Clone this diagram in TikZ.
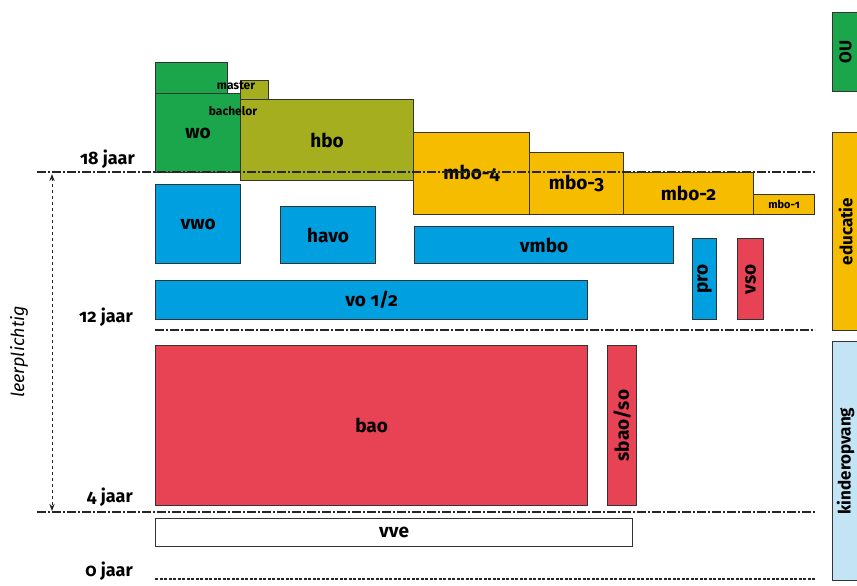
\documentclass[tikz,border=0pt]{standalone}
\usepackage{fontspec}
\setmainfont{Fira Sans}[Numbers=OldStyle]
\usetikzlibrary{arrows.meta, positioning}
\definecolor{wogreen}{RGB}{28,166,76}
\definecolor{hboolive}{RGB}{164,174,30}
\definecolor{mboyellow}{RGB}{245,188,0}
\definecolor{voblue}{RGB}{0,159,223}
\definecolor{baored}{RGB}{232,66,85}
\definecolor{kinderblue}{RGB}{194,228,245}
\tikzstyle{box} = [rectangle, draw=black!80, line width=1.2pt, anchor=north west, inner sep=0pt, font=\bfseries\fontsize{19}{21}\selectfont]
\tikzstyle{vbox} = [box, rotate=90, anchor=north east]
\tikzstyle{tiny} = [inner sep=0pt, font=\bfseries\fontsize{12}{13}\selectfont]
\tikzstyle{age} = [anchor=base east, inner sep=0pt, font=\bfseries\fontsize{18}{20}\selectfont]
\tikzstyle{ageline} = [black!85, line width=1.2pt, dash pattern=on 9pt off 2pt on 2pt off 2pt]
\tikzstyle{arrow} = [{Stealth[length=2.5mm]}-{Stealth[length=2.5mm]}, black!85, line width=1pt, dashed]

\begin{document}
\begin{tikzpicture}[x=1pt, y=-1pt]
    \useasboundingbox (0,0) rectangle (857,586);

    % Hoger onderwijs
    \node[box, fill=wogreen, minimum width=72, minimum height=31] (womaster) at (155,62) {};
    \node[box, fill=hboolive, minimum width=28, minimum height=20] (hbomaster) at (240,80) {};
    \node[box, fill=wogreen, minimum width=85, minimum height=79] (wo) at (155,93) {wo};
    \node[box, fill=hboolive, minimum width=173, minimum height=81] (hbo) at (240,99) {hbo};
    \node[tiny] (master) at (236,86) {master};
    \node[tiny] (bachelor) at (233,111) {bachelor};

    % Mbo
    \node[box, fill=mboyellow, minimum width=116, minimum height=82] (mbo4) at (413,132) {mbo-4};
    \node[box, fill=mboyellow, minimum width=94, minimum height=62] (mbo3) at (529,152) {mbo-3};
    \node[box, fill=mboyellow, minimum width=130, minimum height=42] (mbo2) at (623,172) {mbo-2};
    \node[box, fill=mboyellow, minimum width=61, minimum height=20, font=\bfseries\fontsize{11}{12}\selectfont] (mbo1) at (753,194) {mbo-1};

    % Voortgezet onderwijs
    \node[box, fill=voblue, minimum width=85, minimum height=79] (vwo) at (155,184) {vwo};
    \node[box, fill=voblue, minimum width=95, minimum height=57] (havo) at (280,206) {havo};
    \node[box, fill=voblue, minimum width=259, minimum height=37] (vmbo) at (414,226) {vmbo};
    \node[vbox, fill=voblue, minimum width=81, minimum height=24] (pro) at (692,238) {pro};
    \node[vbox, fill=baored, minimum width=81, minimum height=26] (vso) at (737,238) {vso};
    \node[box, fill=voblue, minimum width=432, minimum height=39] (vo) at (155,280) {vo 1/2};

    % Primair onderwijs
    \node[box, fill=baored, minimum width=432, minimum height=160] (bao) at (155,345) {bao};
    \node[vbox, fill=baored, minimum width=160, minimum height=29] (sbao) at (607,345) {sbao/so};
    \node[box, fill=white, minimum width=477, minimum height=28] (vve) at (155,518) {vve};

    % Rechterkolom
    \node[vbox, fill=wogreen, minimum width=79, minimum height=26, font=\bfseries\fontsize{17}{19}\selectfont] (ou) at (832,12) {OU};
    \node[vbox, fill=mboyellow, minimum width=198, minimum height=26, font=\bfseries\fontsize{17}{19}\selectfont] (educatie) at (832,132) {educatie};
    \node[vbox, fill=kinderblue, minimum width=239, minimum height=26, font=\bfseries\fontsize{17}{19}\selectfont] (kinderopvang) at (832,341) {kinderopvang};

    % Leeftijden
    \node[age] (j18) at (135,164) {18 jaar};
    \node[age] (j12) at (133,322) {12 jaar};
    \node[age] (j4) at (133,502) {4 jaar};
    \node[age] (j0) at (133,576) {0 jaar};

    \coordinate (l18a) at (37,172);  \coordinate (l18b) at (815,172);
    \coordinate (l12a) at (155,330); \coordinate (l12b) at (815,330);
    \coordinate (l4a) at (37,512);   \coordinate (l4b) at (815,512);
    \coordinate (l0a) at (155,579);  \coordinate (l0b) at (815,579);
    \draw[ageline] (l18a) -- (l18b);
    \draw[ageline] (l12a) -- (l12b);
    \draw[ageline] (l4a) -- (l4b);
    \draw[black!85, line width=1.2pt, dash pattern=on 3pt off 1.5pt] (l0a) -- (l0b);

    % Leerplicht
    \coordinate (lpTop) at (52,174);
    \coordinate (lpBot) at (52,511);
    \draw[arrow] (lpTop) -- (lpBot);
    \node[rotate=90, font=\itshape\fontsize{18}{20}\selectfont] (leerplicht) at (19,352) {leerplichtig};
\end{tikzpicture}
\end{document}
